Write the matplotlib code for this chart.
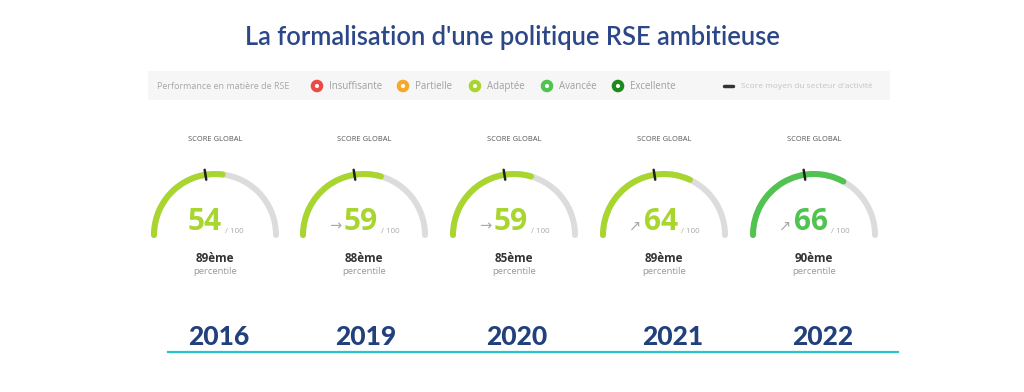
import numpy as np
import matplotlib.pyplot as plt
from matplotlib.patches import Arc, Circle, FancyBboxPatch

years = ['2016', '2019', '2020', '2021', '2022']
scores = [54, 59, 59, 64, 66]
sector_avg = [45, 45, 45, 45, 45]
ranks = ['89ème', '88ème', '85ème', '89ème', '90ème']
trend = ['', '→', '→', '↗', '↗']

levels = ['Insuffisante', 'Partielle', 'Adaptée', 'Avancée', 'Excellente']
level_colors = ['#ec4a45', '#f7a82a', '#a9d62e', '#50c350', '#1c8a1c']
level_bounds = [0, 25, 50, 65, 80]

title = "La formalisation d'une politique RSE ambitieuse"

plt.rcParams['font.family'] = ['Open Sans', 'DejaVu Sans']

fig = plt.figure(figsize=(10.24, 3.92), dpi=100)
ax = fig.add_axes([0, 0, 1, 1])
ax.set_xlim(0, 1024)
ax.set_ylim(392, 0)
ax.set_aspect('equal')
ax.axis('off')

navy = '#2b4788'
ax.text(512, 37, title, ha='center', va='center', fontsize=18.4, color=navy,
        family='Lato', fontweight='semibold')

# legend strip
ax.add_patch(FancyBboxPatch((148, 71), 742, 29, boxstyle='square,pad=0',
                            fc='#f6f6f6', ec='none'))
ax.text(157, 86, 'Performance en matière de RSE', fontsize=6.5, color='#a8a8a8',
        va='center')
leg_x = [317, 403, 475, 547, 618]
for lx, lab, c in zip(leg_x, levels, level_colors):
    ax.add_patch(Circle((lx, 86), 4.2, fc='white', ec=c, lw=3))
    ax.text(lx + 12, 86, lab, fontsize=6.9, color='#a0a0a0', va='center')
ax.plot([724, 733], [86, 86], color='#333333', lw=2.5, solid_capstyle='round')
ax.text(741, 86, "Score moyen du secteur d'activité", fontsize=6.0,
        color='#c4c4c4', va='center')

centers = [215, 364, 514, 664, 814]
cy = 235
r = 61
for cx, yr, s, avg, rk, tr in zip(centers, years, scores, sector_avg, ranks, trend):
    col = level_colors[np.searchsorted(level_bounds, s, side='right') - 1]
    ax.text(cx, 139, 'SCORE GLOBAL', ha='center', va='center', fontsize=5.4,
            color='#555555')
    ax.add_patch(Arc((cx, cy), 2 * r, 2 * r, theta1=180, theta2=360,
                     color='#dcdcdc', lw=4.3, capstyle='round'))
    ax.add_patch(Arc((cx, cy), 2 * r, 2 * r, theta1=180,
                     theta2=180 + 180 * s / 100,
                     color=col, lw=4.3, capstyle='round'))
    t = np.deg2rad(180 + 180 * avg / 100)
    ax.plot([cx + (r - 5) * np.cos(t), cx + (r + 5) * np.cos(t)],
            [cy + (r - 5) * np.sin(t), cy + (r + 5) * np.sin(t)],
            color='#222222', lw=1.8, solid_capstyle='round')
    off = -3 if tr else -10
    ax.text(cx + off, 222, str(s), ha='center', va='center', fontsize=21.5,
            fontweight='bold', color=col)
    ax.text(cx + off + 20, 231, '/ 100', ha='left', va='center', fontsize=5.8,
            color='#aaaaaa')
    if tr:
        ax.text(cx + off - 26, 226, tr, ha='center', va='center', fontsize=10.5,
                color='#aaaaaa', family='DejaVu Sans')
    ax.text(cx, 258, rk, ha='center', va='center', fontsize=8.4,
            fontweight='bold', color='#333333')
    ax.text(cx, 271, 'percentile', ha='center', va='center', fontsize=6.8,
            color='#999999')

year_x = [219, 366, 517, 673, 823]
for yx, yr in zip(year_x, years):
    ax.text(yx, 337, yr, ha='center', va='center', fontsize=19,
            fontweight='black', color='#22407c', family='Lato')
ax.plot([168, 898], [352, 352], color='#27c6cc', lw=1.6)

fig.savefig('out.png', dpi=100, facecolor='white')
